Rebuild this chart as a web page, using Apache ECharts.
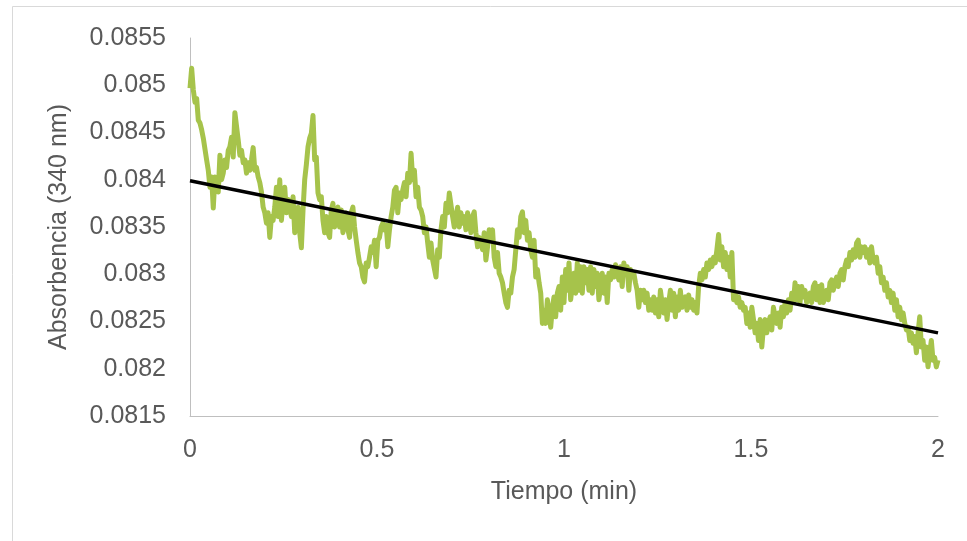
<!DOCTYPE html>
<html>
<head>
<meta charset="utf-8">
<script src="https://cdn.jsdelivr.net/npm/echarts@6/dist/echarts.min.js"></script>
<style>html,body{margin:0;padding:0;background:#fff;}#c{width:967px;height:541px;}</style>
</head>
<body>
<div id="c"></div>
<script>
// Sampling: 451 readings evenly spaced from 0 to 2 min
const tStart = 0;
const tEnd = 2;
// Absorbance (340 nm) readings
const absorbancia = [
0.08497,0.08518,0.08495,0.08482,0.08486,0.08463,0.08460,0.08453,0.08444,0.08442,
0.08421,0.08410,0.08392,0.08403,0.08370,0.08403,0.08397,0.08387,0.08426,0.08400,
0.08407,0.08421,0.08413,0.08431,0.08435,0.08445,0.08424,0.08471,0.08471,0.08442,
0.08426,0.08431,0.08418,0.08421,0.08407,0.08418,0.08410,0.08421,0.08434,0.08410,
0.08413,0.08403,0.08397,0.08387,0.08371,0.08365,0.08354,0.08365,0.08339,0.08361,
0.08357,0.08371,0.08392,0.08361,0.08400,0.08357,0.08379,0.08392,0.08365,0.08379,
0.08371,0.08361,0.08382,0.08344,0.08361,0.08371,0.08344,0.08328,0.08368,0.08400,
0.08416,0.08435,0.08444,
0.08449,0.08468,0.08421,0.08424,0.08386,0.08379,0.08382,0.08357,0.08344,0.08361,
0.08344,0.08339,0.08368,0.08375,0.08350,0.08365,0.08371,0.08350,0.08368,0.08344,
0.08357,0.08365,0.08347,0.08339,0.08365,0.08371,0.08350,0.08336,0.08323,0.08312,
0.08308,0.08297,0.08292,0.08312,0.08308,0.08318,0.08329,0.08323,0.08336,0.08308,
0.08336,0.08339,0.08350,0.08354,0.08347,0.08352,0.08329,0.08347,0.08361,0.08371,
0.08389,0.08392,0.08365,0.08386,0.08379,0.08389,0.08397,0.08382,0.08407,0.08397,
0.08428,0.08400,0.08410,0.08382,0.08392,0.08371,0.08368,0.08361,0.08344,0.08350,
0.08333,0.08318,0.08333,0.08315,
0.08315,0.08297,0.08326,0.08318,0.08347,0.08361,0.08350,0.08375,0.08365,0.08386,
0.08387,0.08361,0.08350,0.08361,0.08371,0.08350,0.08365,0.08354,0.08361,0.08347,
0.08365,0.08357,0.08344,0.08361,0.08366,0.08344,0.08329,0.08339,0.08336,0.08326,
0.08344,0.08315,0.08329,0.08347,0.08339,0.08347,0.08318,0.08308,0.08323,0.08301,
0.08297,0.08291,0.08280,0.08270,0.08265,0.08283,0.08280,0.08297,0.08305,0.08326,
0.08347,0.08339,0.08361,0.08366,0.08344,0.08357,0.08336,0.08344,0.08326,0.08318,
0.08336,0.08297,0.08305,0.08291,0.08280,0.08248,0.08262,0.08248,0.08273,0.08259,
0.08244,0.08265,0.08276,0.08255,0.08280,
0.08287,0.08262,0.08297,0.08270,0.08305,0.08283,0.08312,0.08273,0.08287,0.08301,
0.08280,0.08312,0.08283,0.08308,0.08280,0.08308,0.08291,0.08305,0.08283,0.08308,
0.08280,0.08305,0.08287,0.08301,0.08273,0.08287,0.08301,0.08280,0.08297,0.08270,
0.08301,0.08294,0.08305,0.08297,0.08310,0.08312,0.08294,0.08308,0.08287,0.08312,
0.08301,0.08308,0.08283,0.08305,0.08297,0.08301,0.08291,0.08283,0.08265,0.08283,
0.08273,0.08283,0.08270,0.08280,0.08262,0.08273,0.08262,0.08276,0.08259,0.08273,
0.08255,0.08283,0.08270,0.08259,0.08273,0.08252,0.08270,0.08283,0.08262,0.08280,
0.08255,0.08276,0.08262,0.08283,0.08265,
0.08270,0.08276,0.08262,0.08278,0.08265,0.08273,0.08262,0.08270,0.08259,0.08287,
0.08301,0.08294,0.08305,0.08297,0.08312,0.08305,0.08315,0.08308,0.08318,0.08312,
0.08326,0.08342,0.08315,0.08329,0.08308,0.08323,0.08305,0.08318,0.08297,0.08323,
0.08273,0.08280,0.08270,0.08276,0.08265,0.08270,0.08262,0.08265,0.08248,0.08259,
0.08244,0.08265,0.08252,0.08238,0.08248,0.08230,0.08252,0.08223,0.08244,0.08252,
0.08238,0.08248,0.08255,0.08241,0.08265,0.08255,0.08248,0.08259,0.08244,0.08265,
0.08255,0.08270,0.08259,0.08273,0.08262,0.08280,0.08270,0.08291,0.08273,0.08287,
0.08270,0.08287,0.08276,0.08283,0.08270,
0.08273,0.08280,0.08270,0.08287,0.08291,0.08273,0.08287,0.08270,0.08289,0.08270,
0.08276,0.08283,0.08273,0.08291,0.08294,0.08283,0.08291,0.08297,0.08287,0.08301,
0.08305,0.08294,0.08308,0.08315,0.08308,0.08323,0.08315,0.08326,0.08318,0.08333,
0.08336,0.08318,0.08329,0.08323,0.08329,0.08318,0.08326,0.08312,0.08329,0.08315,
0.08312,0.08318,0.08301,0.08308,0.08291,0.08297,0.08283,0.08291,0.08276,0.08283,
0.08270,0.08280,0.08262,0.08273,0.08255,0.08265,0.08252,0.08259,0.08248,0.08241,
0.08244,0.08230,0.08238,0.08227,0.08234,0.08217,0.08238,0.08255,0.08223,0.08230,
0.08209,0.08223,0.08202,0.08217,0.08230,0.08209,0.08212,0.08202,0.08209
];
// Linear trendline end points
const tendenciaT = [0, 2];
const tendenciaA = [0.08399, 0.08238];
// Axis ticks
const yMin = 0.0815, yMax = 0.0855, yStep = 0.0005;
const xMin = 0, xMax = 2, xStep = 0.5;
const xTitulo = 'Tiempo (min)';
const yTitulo = 'Absorbencia (340 nm)';

const n = absorbancia.length;
const serie = absorbancia.map((a, i) => [tStart + (tEnd - tStart) * i / (n - 1), a]);
const tendencia = tendenciaT.map((t, i) => [t, tendenciaA[i]]);

const font = 'Liberation Sans';
const txt = '#595959';
const chart = echarts.init(document.getElementById('c'), null, {renderer: 'canvas'});
chart.setOption({
  animation: false,
  backgroundColor: '#ffffff',
  graphic: [{
    type: 'rect', left: 10, top: 4, silent: true, z: -1,
    shape: {width: 970, height: 560},
    style: {fill: 'none', stroke: '#d9d9d9', lineWidth: 1}
  }],
  grid: {left: 190, right: 29, top: 38, bottom: 125},
  xAxis: {
    type: 'value', min: xMin, max: xMax, interval: xStep,
    name: xTitulo, nameLocation: 'middle', nameGap: 64,
    nameTextStyle: {fontFamily: font, fontSize: 25, color: txt},
    axisLine: {show: true, onZero: false, lineStyle: {color: '#bfbfbf', width: 1}},
    axisTick: {show: false},
    splitLine: {show: false},
    axisLabel: {fontFamily: font, fontSize: 25, color: txt, margin: 22,
      formatter: v => String(+v.toFixed(2))}
  },
  yAxis: {
    type: 'value', min: yMin, max: yMax, interval: yStep,
    name: yTitulo, nameLocation: 'middle', nameGap: 118, nameRotate: 90,
    nameTextStyle: {fontFamily: font, fontSize: 25, color: txt},
    axisLine: {show: true, lineStyle: {color: '#bfbfbf', width: 1}},
    axisTick: {show: false},
    splitLine: {show: false},
    axisLabel: {fontFamily: font, fontSize: 25, color: txt, margin: 24,
      formatter: v => String(+v.toFixed(4))}
  },
  series: [{
    type: 'line', data: serie, showSymbol: false, symbol: 'none',
    lineStyle: {color: '#a6c34b', width: 5, join: 'round'},
    z: 2
  }, {
    type: 'line', data: tendencia, showSymbol: false, symbol: 'none',
    lineStyle: {color: '#000000', width: 3.5},
    z: 3
  }]
});
</script>
</body>
</html>
